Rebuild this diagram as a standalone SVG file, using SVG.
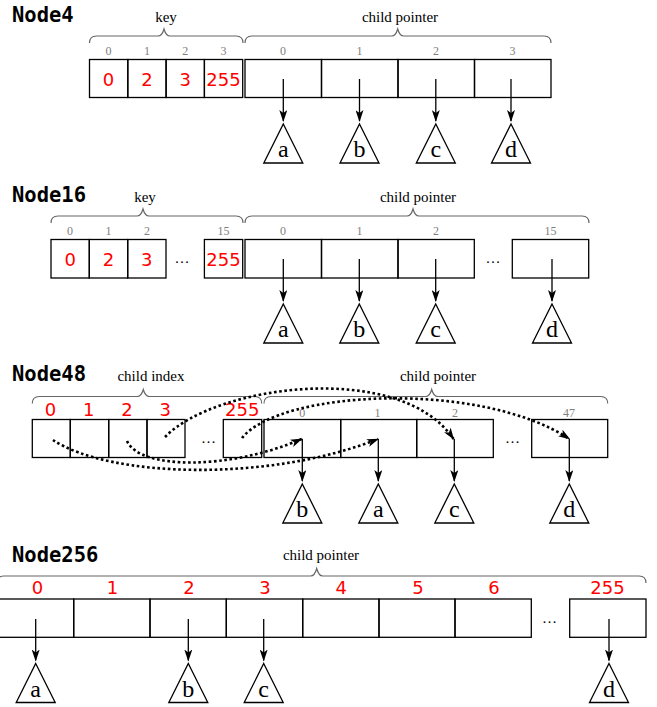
<svg xmlns="http://www.w3.org/2000/svg" width="657" height="707" viewBox="0 0 657 707">
<defs>
<style>
.title{font-family:"DejaVu Sans Mono","Liberation Mono",monospace;font-weight:bold;font-size:20.5px;fill:#000}
.lbl{font-family:"Liberation Serif","DejaVu Serif",serif;font-size:15px;fill:#000;text-anchor:middle}
.idx{font-family:"Liberation Serif","DejaVu Serif",serif;font-size:12px;fill:#808080;text-anchor:middle}
.red{font-family:"DejaVu Sans","Noto Sans",sans-serif;font-size:18px;fill:#ff0000;text-anchor:middle}
.dots{font-family:"Liberation Serif","DejaVu Serif",serif;font-size:15px;fill:#000;text-anchor:middle}
.cell{fill:none;stroke:#000;stroke-width:1.3}
.brace{fill:none;stroke:#666;stroke-width:1.2}
.tri{fill:#fff;stroke:#000;stroke-width:1.3}
.let{font-family:"Liberation Serif","DejaVu Serif",serif;font-size:24px;fill:#000;text-anchor:middle}
.ptr{fill:none;stroke:#000;stroke-width:1.3;marker-end:url(#ah)}
.dot{fill:none;stroke:#000;stroke-width:2.6;stroke-dasharray:2.6 2.6;marker-end:url(#ah)}
</style>
<marker id="ah" viewBox="0 0 12 8" refX="11" refY="4" markerWidth="12" markerHeight="8" markerUnits="userSpaceOnUse" orient="auto">
<path d="M0,0 L12,4 L0,8 L3,4 z" fill="#000"/>
</marker>
</defs>

<!-- Node4 -->
<g id="node4">
<text class="title" x="12" y="22">Node4</text>
<path class="brace" d="M89.5,43 Q89.5,36 96.5,36 L158,36 Q162,36 164,29 Q166,36 170,36 L236,36 Q243,36 243,43"/>
<path class="brace" d="M245,43 Q245,36 252,36 L391.7,36 Q395.7,36 397.7,29 Q399.7,36 403.7,36 L544,36 Q551,36 551,43"/>
<text class="lbl" x="166" y="22">key</text>
<text class="lbl" x="400" y="22">child pointer</text>
<text class="idx" x="108.5" y="55">0</text>
<text class="idx" x="147" y="55">1</text>
<text class="idx" x="185.3" y="55">2</text>
<text class="idx" x="223.5" y="55">3</text>
<text class="idx" x="283" y="55">0</text>
<text class="idx" x="359.5" y="55">1</text>
<text class="idx" x="436" y="55">2</text>
<text class="idx" x="512.5" y="55">3</text>
<rect class="cell" x="89.5" y="59.5" width="38.3" height="38"/>
<rect class="cell" x="127.8" y="59.5" width="38.3" height="38"/>
<rect class="cell" x="166.1" y="59.5" width="38.3" height="38"/>
<rect class="cell" x="204.4" y="59.5" width="38.3" height="38"/>
<rect class="cell" x="245" y="59.5" width="76.5" height="38"/>
<rect class="cell" x="321.5" y="59.5" width="76.5" height="38"/>
<rect class="cell" x="398" y="59.5" width="76.5" height="38"/>
<rect class="cell" x="474.5" y="59.5" width="76.5" height="38"/>
<text class="red" x="108.6" y="86">0</text>
<text class="red" x="147" y="86">2</text>
<text class="red" x="185.3" y="86">3</text>
<text class="red" x="223.5" y="86">255</text>
<g id="n4a"><path class="tri" d="M283.3,124 L302.8,163 L263.8,163 Z"/><text class="let" x="283.3" y="157">a</text></g>
<g id="n4b"><path class="tri" d="M359.5,124 L379,163 L340,163 Z"/><text class="let" x="359.5" y="157">b</text></g>
<g id="n4c"><path class="tri" d="M435.8,124 L455.3,163 L416.3,163 Z"/><text class="let" x="435.8" y="157">c</text></g>
<g id="n4d"><path class="tri" d="M511,124 L530.5,163 L491.5,163 Z"/><text class="let" x="511" y="157">d</text></g>
</g>

<!-- Node16 -->
<g id="node16">
<text class="title" x="12" y="202">Node16</text>
<path class="brace" d="M51,223 Q51,216 58,216 L137,216 Q141,216 143,209 Q145,216 149,216 L236,216 Q243,216 243,223"/>
<path class="brace" d="M245,223 Q245,216 252,216 L407,216 Q411,216 413,209 Q415,216 419,216 L582,216 Q589,216 589,223"/>
<text class="lbl" x="145" y="202">key</text>
<text class="lbl" x="418" y="202">child pointer</text>
<text class="idx" x="70" y="235">0</text>
<text class="idx" x="108.5" y="235">1</text>
<text class="idx" x="147" y="235">2</text>
<text class="idx" x="223.5" y="235">15</text>
<text class="idx" x="283" y="235">0</text>
<text class="idx" x="359.5" y="235">1</text>
<text class="idx" x="436" y="235">2</text>
<text class="idx" x="550.5" y="235">15</text>
<rect class="cell" x="51" y="239.5" width="38.3" height="38.5"/>
<rect class="cell" x="89.3" y="239.5" width="38.4" height="38.5"/>
<rect class="cell" x="127.7" y="239.5" width="38.3" height="38.5"/>
<rect class="cell" x="204.4" y="239.5" width="38.3" height="38.5"/>
<text class="dots" x="182" y="263">…</text>
<rect class="cell" x="245" y="239.5" width="76.5" height="38.5"/>
<rect class="cell" x="321.5" y="239.5" width="76.5" height="38.5"/>
<rect class="cell" x="398" y="239.5" width="76.3" height="38.5"/>
<text class="dots" x="493" y="263">…</text>
<rect class="cell" x="512.3" y="239.5" width="76.4" height="38.5"/>
<text class="red" x="70.2" y="266">0</text>
<text class="red" x="108.5" y="266">2</text>
<text class="red" x="146.8" y="266">3</text>
<text class="red" x="223.5" y="266">255</text>
<g id="n16a"><path class="tri" d="M283.3,304 L302.8,343 L263.8,343 Z"/><text class="let" x="283.3" y="337">a</text></g>
<g id="n16b"><path class="tri" d="M359.3,304 L378.8,343 L339.8,343 Z"/><text class="let" x="359.3" y="337">b</text></g>
<g id="n16c"><path class="tri" d="M435.7,304 L455.2,343 L416.2,343 Z"/><text class="let" x="435.7" y="337">c</text></g>
<g id="n16d"><path class="tri" d="M552,304 L571.5,343 L532.5,343 Z"/><text class="let" x="552" y="337">d</text></g>
</g>

<!-- Node48 -->
<g id="node48">
<text class="title" x="12" y="381">Node48</text>
<path class="brace" d="M32.3,403.5 Q32.3,396.5 39.3,396.5 L137.3,396.5 Q141.3,396.5 143.3,389.5 Q145.3,396.5 149.3,396.5 L254.7,396.5 Q261.7,396.5 261.7,403.5"/>
<path class="brace" d="M264,403.5 Q264,396.5 271,396.5 L425.7,396.5 Q429.7,396.5 431.7,389.5 Q433.7,396.5 437.7,396.5 L600.7,396.5 Q607.7,396.5 607.7,403.5"/>
<text class="lbl" x="151" y="381">child index</text>
<text class="lbl" x="438" y="381">child pointer</text>
<text class="red" x="50.5" y="416">0</text>
<text class="red" x="88.8" y="416">1</text>
<text class="red" x="127" y="416">2</text>
<text class="red" x="165.3" y="416">3</text>
<text class="red" x="242.3" y="416">255</text>
<text class="idx" x="302.3" y="416.5">0</text>
<text class="idx" x="377.5" y="416.5">1</text>
<text class="idx" x="455" y="416.5">2</text>
<text class="idx" x="569" y="416.5">47</text>
<rect class="cell" x="32.3" y="419.5" width="38" height="38"/>
<rect class="cell" x="70.3" y="419.5" width="38.4" height="38"/>
<rect class="cell" x="108.7" y="419.5" width="38.3" height="38"/>
<rect class="cell" x="147" y="419.5" width="38" height="38"/>
<text class="dots" x="208.5" y="443">…</text>
<rect class="cell" x="223.3" y="419.5" width="38.4" height="38"/>
<rect class="cell" x="264" y="419.5" width="76.7" height="38"/>
<rect class="cell" x="340.7" y="419.5" width="76" height="38"/>
<rect class="cell" x="416.7" y="419.5" width="76.6" height="38"/>
<text class="dots" x="512.5" y="443">…</text>
<rect class="cell" x="531.7" y="419.5" width="76" height="38"/>
<g id="n48b"><path class="tri" d="M302.3,484 L321.8,523 L282.8,523 Z"/><text class="let" x="302.3" y="517">b</text></g>
<g id="n48a"><path class="tri" d="M378.3,484 L397.8,523 L358.8,523 Z"/><text class="let" x="378.3" y="517">a</text></g>
<g id="n48c"><path class="tri" d="M454.3,484 L473.8,523 L434.8,523 Z"/><text class="let" x="454.3" y="517">c</text></g>
<g id="n48d"><path class="tri" d="M569.3,484 L588.8,523 L549.8,523 Z"/><text class="let" x="569.3" y="517">d</text></g>
</g>

<!-- Node256 -->
<g id="node256">
<text class="title" x="12" y="561.5">Node256</text>
<path class="brace" d="M-3,583 Q-3,576 4,576 L310.7,576 Q314.7,576 316.7,568.5 Q318.7,576 322.7,576 L639,576 Q646,576 646,583"/>
<text class="lbl" x="321" y="560">child pointer</text>
<text class="red" x="37.5" y="594.3">0</text>
<text class="red" x="112.5" y="594.3">1</text>
<text class="red" x="189" y="594.3">2</text>
<text class="red" x="265" y="594.3">3</text>
<text class="red" x="341.3" y="594.3">4</text>
<text class="red" x="418" y="594.3">5</text>
<text class="red" x="494" y="594.3">6</text>
<text class="red" x="607.5" y="594.3">255</text>
<rect class="cell" x="-2.8" y="599" width="76.5" height="38.3"/>
<rect class="cell" x="73.7" y="599" width="76.3" height="38.3"/>
<rect class="cell" x="150" y="599" width="76.3" height="38.3"/>
<rect class="cell" x="226.3" y="599" width="76.4" height="38.3"/>
<rect class="cell" x="302.7" y="599" width="76.3" height="38.3"/>
<rect class="cell" x="379" y="599" width="76" height="38.3"/>
<rect class="cell" x="455" y="599" width="76.3" height="38.3"/>
<text class="dots" x="549.5" y="622.5">…</text>
<rect class="cell" x="569.7" y="599" width="76.3" height="38.3"/>
<g id="n256a"><path class="tri" d="M35.7,663.5 L55.2,702.5 L16.2,702.5 Z"/><text class="let" x="35.7" y="696.5">a</text></g>
<g id="n256b"><path class="tri" d="M188.3,663.5 L207.8,702.5 L168.8,702.5 Z"/><text class="let" x="188.3" y="696.5">b</text></g>
<g id="n256c"><path class="tri" d="M263.7,663.5 L283.2,702.5 L244.2,702.5 Z"/><text class="let" x="263.7" y="696.5">c</text></g>
<g id="n256d"><path class="tri" d="M609,663.5 L628.5,702.5 L589.5,702.5 Z"/><text class="let" x="609" y="696.5">d</text></g>
</g>

<!-- connectors -->
<g id="connectors">
<line class="ptr" x1="283.3" y1="79" x2="283.3" y2="121"/>
<line class="ptr" x1="359.5" y1="79" x2="359.5" y2="121"/>
<line class="ptr" x1="435.8" y1="79" x2="435.8" y2="121"/>
<line class="ptr" x1="511" y1="79" x2="511" y2="121"/>
<line class="ptr" x1="283.3" y1="259" x2="283.3" y2="301"/>
<line class="ptr" x1="359.3" y1="259" x2="359.3" y2="301"/>
<line class="ptr" x1="435.7" y1="259" x2="435.7" y2="301"/>
<line class="ptr" x1="552" y1="259" x2="552" y2="301"/>
<line class="ptr" x1="302.3" y1="439" x2="302.3" y2="481"/>
<line class="ptr" x1="378.3" y1="439" x2="378.3" y2="481"/>
<line class="ptr" x1="454.3" y1="439" x2="454.3" y2="481"/>
<line class="ptr" x1="569.3" y1="439" x2="569.3" y2="481"/>
<line class="ptr" x1="35.7" y1="619" x2="35.7" y2="660.5"/>
<line class="ptr" x1="188.3" y1="619" x2="188.3" y2="660.5"/>
<line class="ptr" x1="263.7" y1="619" x2="263.7" y2="660.5"/>
<line class="ptr" x1="609" y1="619" x2="609" y2="660.5"/>
<path class="dot" d="M53,440 C110,478 270,482 378,439"/>
<path class="dot" d="M127,441 C140,470 230,470 301.7,439"/>
<path class="dot" d="M165,437 C215,385 400,360 453.5,439"/>
<path class="dot" d="M242,438 C280,390 480,380 569.5,439"/>
</g>
</svg>
